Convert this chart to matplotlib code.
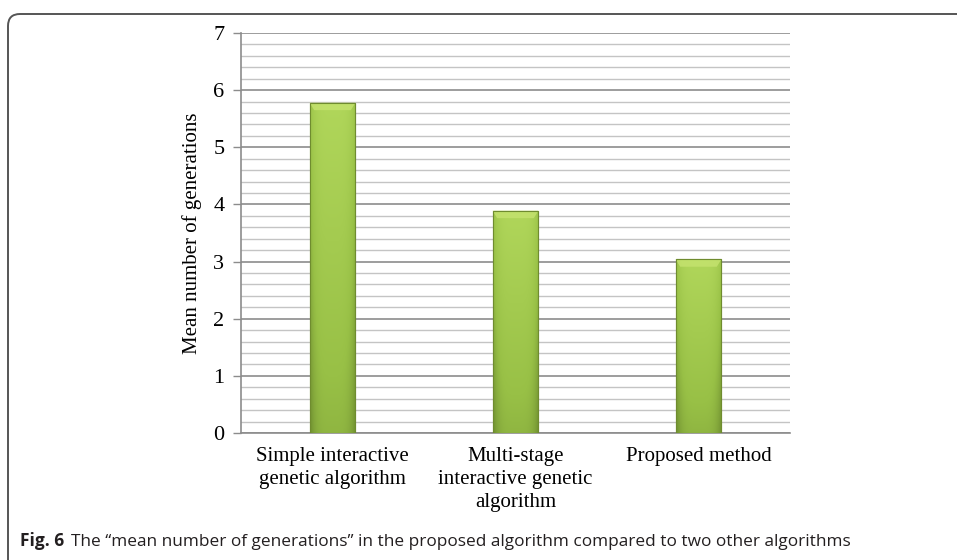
import numpy as np
import matplotlib
matplotlib.use("Agg")
import matplotlib.pyplot as plt
from matplotlib.patches import FancyBboxPatch
from matplotlib.colors import LinearSegmentedColormap

# data
categories = ["Simple interactive\ngenetic algorithm",
              "Multi-stage\ninteractive genetic\nalgorithm",
              "Proposed method"]
mean_generations = [5.78, 3.89, 3.04]
y_ticks = [0, 1, 2, 3, 4, 5, 6, 7]

W, H = 957, 560
fig = plt.figure(figsize=(W / 100, H / 100), dpi=100)

serif = ["Liberation Serif", "DejaVu Serif"]
cap_font = ["Open Sans", "DejaVu Sans"]

ax = fig.add_axes([241 / W, 1 - 433 / H, (790 - 241) / W, (433 - 33) / H])
x = np.arange(len(categories))
bars = ax.bar(x, mean_generations, width=0.25, color="#93b942",
              edgecolor="#6f8c2f", linewidth=0.8, zorder=3)

# gradient fill for a bevelled look
gx = np.linspace(-1, 1, 60)
gy = np.linspace(0, 1, 120)[:, None]
grad = 0.6 * gy + 0.4 * (1 - np.abs(gx)[None, :] ** 4)
cmap = LinearSegmentedColormap.from_list("grn", ["#6f8f30", "#98c046", "#b0d65a"])
for b in bars:
    x0, w, h = b.get_x(), b.get_width(), b.get_height()
    im = ax.imshow(grad, cmap=cmap, extent=[x0, x0 + w, 0, h], origin="lower",
                   aspect="auto", zorder=3.5, interpolation="bilinear")
    im.set_clip_path(b)
    # lighter bevel at the top
    bev = 0.13
    ax.fill([x0, x0 + w, x0 + w - 0.025, x0 + 0.025],
            [h, h, h - bev, h - bev], color="#c4e26e", alpha=0.85, zorder=4, lw=0)
    ax.bar(b.get_x() + w / 2, h, width=w, fill=False, edgecolor="#6f8c2f",
           linewidth=0.8, zorder=5)

ax.set_xlim(-0.5, 2.5)
ax.set_ylim(0, 7)
ax.set_yticks(y_ticks)
ax.set_yticks(np.arange(0, 7.01, 0.2), minor=True)
ax.grid(axis="y", which="minor", color="#c4c4c4", lw=1.0, zorder=0)
ax.grid(axis="y", which="major", color="#8c8c8c", lw=1.2, zorder=1)
ax.tick_params(axis="y", which="major", length=6, color="#8c8c8c", width=1,
               pad=6, labelsize=16)
ax.tick_params(axis="y", which="minor", length=0)
ax.tick_params(axis="x", length=0, pad=10, labelsize=15)
ax.set_xticks(x)
ax.set_xticklabels(categories, linespacing=1.3)
for lab in ax.get_yticklabels() + ax.get_xticklabels():
    lab.set_family(serif)
for s in ["top", "right"]:
    ax.spines[s].set_visible(False)
for s in ["left", "bottom"]:
    ax.spines[s].set_color("#8c8c8c")
    ax.spines[s].set_linewidth(1.2)
ax.set_ylabel("Mean number of generations", family=serif, fontsize=15, labelpad=8)

# outer rounded frame and caption
ov = fig.add_axes([0, 0, 1, 1], zorder=-1)
ov.set_xlim(0, W)
ov.set_ylim(0, H)
ov.axis("off")
ov.add_patch(FancyBboxPatch((8, -40), 1100, H - 6 + 40 - 8,
                            boxstyle="round,pad=0,rounding_size=12",
                            fill=False, edgecolor="#555555", lw=1.4))

t1 = fig.text(20 / W, 1 - 546 / H, "Fig. 6", family=cap_font, fontsize=12.5,
              weight="bold", va="baseline", color="#231f20")
fig.canvas.draw()
bb = t1.get_window_extent()
fig.text((bb.x1 + 7) / W, 1 - 546 / H,
         "The \u201cmean number of generations\u201d in the proposed algorithm "
         "compared to two other algorithms",
         family=cap_font, fontsize=12.4, va="baseline", color="#231f20")

fig.savefig("out.png", dpi=100)
